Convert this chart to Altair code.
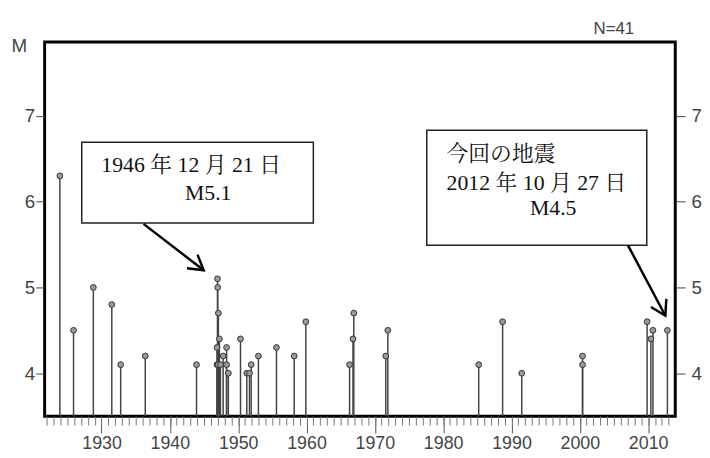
import altair as alt
import pandas as pd

# ---- event data (decimal year, magnitude) ----
years = [1923.9, 1925.9, 1928.8, 1931.5, 1932.8, 1936.4, 1943.9,
         1946.97, 1947.0, 1947.1, 1947.25, 1946.9, 1946.9, 1947.05,
         1947.4, 1947.8, 1948.3, 1948.3, 1948.56, 1950.34, 1951.26,
         1951.65, 1951.9, 1952.96, 1955.6, 1958.2, 1959.9, 1966.3,
         1966.8, 1966.92, 1971.6, 1971.9, 1985.2, 1988.7, 1991.5,
         2000.4, 2000.4, 2009.85, 2010.4, 2010.7, 2012.82]
mags = [6.3, 4.5, 5.0, 4.8, 4.1, 4.2, 4.1,
        5.1, 5.0, 4.7, 4.4, 4.3, 4.1, 4.1,
        4.1, 4.2, 4.3, 4.1, 4.0, 4.4, 4.0,
        4.0, 4.1, 4.2, 4.3, 4.2, 4.6, 4.1,
        4.4, 4.7, 4.2, 4.5, 4.1, 4.6, 4.0,
        4.2, 4.1, 4.6, 4.4, 4.5, 4.5]

x_domain = [1921.67, 2013.97]
y_domain = [3.5, 7.86]
y_ticks = [4, 5, 6, 7]
x_major = list(range(1930, 2011, 10))
x_minor = list(range(1922, 2014))

# ---- annotation data ----
box_x = [1927.1, 1977.6]
box_x2 = [1961.0, 2009.8]
box_y = [6.69, 6.83]
box_y2 = [5.75, 5.49]

text_lines = ["1946 年 12 月 21 日", "M5.1", "今回の地震", "2012 年 10 月 27 日", "M4.5"]
text_x = [1929.97, 1942.2, 1980.5, 1980.5, 1992.7]
text_y = [6.42, 6.10, 6.55, 6.21, 5.92]

arrow_x = [1936.14, 2007.05]
arrow_y = [5.74, 5.49]
arrow_x2 = [1944.95, 2012.52]
arrow_y2 = [5.20, 4.67]
arrow_angle = [37.4, 62.3]

ev = pd.DataFrame({"year": years, "M": mags})
boxes = pd.DataFrame({"x": box_x, "x2": box_x2, "y": box_y, "y2": box_y2})
texts = pd.DataFrame({"t": text_lines, "x": text_x, "y": text_y})
arrows = pd.DataFrame({"x": arrow_x, "y": arrow_y, "x2": arrow_x2, "y2": arrow_y2, "a": arrow_angle})

SANS = "Liberation Sans Narrow, Liberation Sans, Arial"
SERIF = "Liberation Serif, Noto Serif CJK JP, Noto Sans CJK JP"

xscale = alt.Scale(domain=x_domain, nice=False, zero=False)
yscale = alt.Scale(domain=y_domain, nice=False, zero=False)

x_axis_major = alt.Axis(
    values=x_major, format="d", title=None, domain=False, grid=False,
    tickSize=17, tickColor="#555", tickWidth=1, labelOverlap=False,
    labelFlush=False, labelPadding=2, labelFontSize=18, labelColor="#444",
    labelFont=SANS, orient="bottom",
)
x_axis_minor = alt.Axis(
    values=x_minor, title=None, domain=False, grid=False, labels=False,
    tickSize=9, tickColor="#777", tickWidth=1, orient="bottom",
)
y_left = alt.Axis(
    values=y_ticks, title="M", titleAngle=0, titleX=-26, titleY=4,
    titleAlign="center", titleBaseline="middle", titleFontSize=19,
    titleFontWeight="normal", titleColor="#444", titleFont=SANS,
    domain=False, grid=False, tickSize=9, tickColor="#444",
    labelPadding=1, labelFontSize=19, labelColor="#444", labelFont=SANS,
    orient="left",
)
y_right = alt.Axis(
    values=y_ticks, title="N=41", titleAngle=0, titleX=-42, titleY=-13,
    titleAlign="right", titleBaseline="middle", titleFontSize=17,
    titleFontWeight="normal", titleColor="#444", titleFont=SANS,
    domain=False, grid=False, tickSize=10, tickColor="#444",
    labelPadding=6, labelFontSize=19, labelColor="#444", labelFont=SANS,
    orient="right",
)

stems = alt.Chart(ev).mark_rule(color="#444", strokeWidth=1.5).encode(
    x=alt.X("year:Q", scale=xscale, axis=x_axis_major),
    y=alt.Y("M:Q", scale=yscale, axis=y_left),
    y2=alt.datum(y_domain[0]),
)

points = alt.Chart(ev).mark_point(
    filled=True, fill="#9a9a9a", stroke="#333", strokeWidth=1, size=34, opacity=1
).encode(
    x=alt.X("year:Q", scale=xscale, axis=x_axis_minor),
    y=alt.Y("M:Q", scale=yscale, axis=y_right),
)

rects = alt.Chart(boxes).mark_rect(fill="white", stroke="#222", strokeWidth=1.5).encode(
    x=alt.X("x:Q", scale=xscale, axis=None), x2="x2:Q",
    y=alt.Y("y:Q", scale=yscale, axis=None), y2="y2:Q",
)

labels = alt.Chart(texts).mark_text(
    align="left", baseline="middle", font=SERIF, fontSize=22, color="#111"
).encode(
    x=alt.X("x:Q", scale=xscale, axis=None),
    y=alt.Y("y:Q", scale=yscale, axis=None),
    text="t:N",
)

arrow_lines = alt.Chart(arrows).mark_rule(color="black", strokeWidth=2.5).encode(
    x=alt.X("x:Q", scale=xscale, axis=None), x2="x2:Q",
    y=alt.Y("y:Q", scale=yscale, axis=None), y2="y2:Q",
)

heads = alt.Chart(arrows).mark_point(
    shape="M -1 -0.6 L 0 0 L -1 0.6", filled=False, stroke="black",
    strokeWidth=2.5, size=850, opacity=1
).encode(
    x=alt.X("x2:Q", scale=xscale, axis=None),
    y=alt.Y("y2:Q", scale=yscale, axis=None),
    angle=alt.Angle("a:Q", scale=None),
)

chart = alt.layer(stems, points, rects, labels, arrow_lines, heads).resolve_axis(
    x="independent", y="independent"
).properties(
    width=637, height=378,
    autosize=alt.AutoSizeParams(type="none"),
    padding={"left": 37, "top": 32, "right": 27, "bottom": 38},
).configure_view(stroke="black", strokeWidth=3)

chart.save("out.html", embed_options={"renderer": "svg", "actions": False})
